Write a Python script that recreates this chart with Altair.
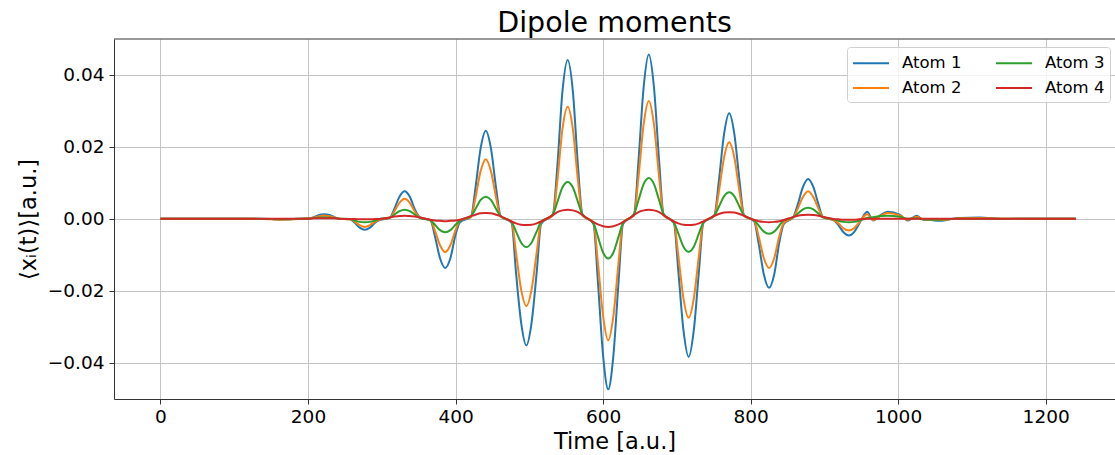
import altair as alt
import pandas as pd

# time samples [a.u.]
T = [0, 60, 120, 150, 165, 180, 192,
     202, 208, 215, 222, 229, 236, 242,
     257, 263, 270, 277, 284, 291, 297,
     311, 317, 324, 331, 338, 345, 351,
     366, 372, 379, 386, 393, 400, 406,
     421, 427, 434, 441, 448, 455, 461,
     476, 482, 489, 496, 503, 510, 516,
     532, 538, 545, 552, 559, 566, 572,
     587, 593, 600, 607, 614, 621, 627,
     642, 648, 655, 662, 669, 676, 682,
     696, 702, 709, 716, 723, 730, 736,
     751, 757, 764, 771, 778, 785, 791,
     805, 811, 818, 825, 832, 839, 845,
     858, 864, 871, 878, 885, 892, 898,
     913, 919, 926, 933, 940, 947, 953,
     958, 966, 976, 986, 1002, 1013, 1025, 1034, 1045, 1056, 1070, 1083, 1110, 1142, 1180, 1241]

atom1 = [0, 0, 0, -0.0001, -0.0002, -0.0001, 0,
         0.0001, 0.0004, 0.001, 0.0012, 0.001, 0.0004, 0.0,
         -0.0002, -0.0011, -0.0025, -0.0031, -0.0025, -0.0011, -0.0004,
         0.0002, 0.0027, 0.0061, 0.0076, 0.0061, 0.0025, 0.0005,
         -0.0005, -0.0048, -0.011, -0.0137, -0.011, -0.0045, -0.001,
         0.0005, 0.0085, 0.0195, 0.0244, 0.0195, 0.0085, 0.0008,
         -0.0012, -0.015, -0.029, -0.0352, -0.029, -0.015, -0.0015,
         0.0012, 0.0145, 0.0355, 0.0441, 0.0355, 0.0145, 0.0012,
         -0.0015, -0.0175, -0.038, -0.0474, -0.038, -0.0175, -0.0015,
         0.0012, 0.016, 0.0365, 0.0456, 0.0365, 0.016, 0.0012,
         -0.0012, -0.0145, -0.031, -0.0384, -0.031, -0.0145, -0.0012,
         0.001, 0.0105, 0.0235, 0.0293, 0.0235, 0.0105, 0.001,
         -0.0008, -0.007, -0.0155, -0.0192, -0.0155, -0.0065, -0.0015,
         0.0005, 0.004, 0.0088, 0.011, 0.0088, 0.004, 0.0005,
         -0.0005, -0.0018, -0.0038, -0.0047, -0.0038, -0.0015, 0.0008,
         0.0019, -0.0005, 0.001, 0.0019, 0.0011, -0.0005, 0.0008, -0.0003, -0.0004, -0.0006, -0.0002, 0.0002, 0.0003, -0.0001, 0, 0]

atom2 = [0, 0, 0, -0.0002, -0.0003, -0.0002, 0,
         0.0001, 0.0003, 0.0007, 0.0009, 0.0007, 0.0003, 0,
         -0.0002, -0.0008, -0.0018, -0.0023, -0.0018, -0.0008, -0.0003,
         0.0002, 0.002, 0.0044, 0.0055, 0.0044, 0.0019, 0.0004,
         -0.0004, -0.0033, -0.0074, -0.0093, -0.0074, -0.0032, -0.0005,
         0.0004, 0.0058, 0.0132, 0.0165, 0.0132, 0.0058, 0.0006,
         -0.0008, -0.0095, -0.0198, -0.0243, -0.0198, -0.0095, -0.001,
         0.0009, 0.0105, 0.025, 0.0311, 0.025, 0.0105, 0.0009,
         -0.001, -0.0122, -0.027, -0.0338, -0.027, -0.0122, -0.001,
         0.0009, 0.0115, 0.0262, 0.0327, 0.0262, 0.0115, 0.0009,
         -0.0009, -0.0102, -0.0222, -0.0275, -0.0222, -0.0102, -0.0009,
         0.0008, 0.0075, 0.017, 0.0212, 0.017, 0.0075, 0.0008,
         -0.0006, -0.005, -0.011, -0.0137, -0.011, -0.0048, -0.0012,
         0.0004, 0.0028, 0.006, 0.0076, 0.006, 0.0028, 0.0004,
         -0.0004, -0.0013, -0.0027, -0.0033, -0.0027, -0.0011, 0.0005,
         0.0012, -0.0004, 0.0008, 0.0016, 0.0009, -0.0003, 0.0005, -0.0002, -0.0003, -0.0004, -0.0002, 0.0001, 0.0002, 0, 0, 0]

atom3 = [0, 0, 0, -0.0001, -0.0002, -0.0001, 0,
         0, 0.0002, 0.0003, 0.0004, 0.0003, 0.0002, 0,
         -0.0001, -0.0005, -0.0009, -0.001, -0.0009, -0.0005, -0.0001,
         0.0003, 0.0011, 0.0021, 0.0025, 0.0021, 0.0011, 0.0003,
         -0.0005, -0.0017, -0.0032, -0.0038, -0.0032, -0.0017, -0.0005,
         0.0007, 0.0027, 0.0052, 0.0061, 0.0052, 0.0027, 0.0007,
         -0.0009, -0.0036, -0.0067, -0.0079, -0.0067, -0.0036, -0.0009,
         0.0012, 0.0046, 0.0087, 0.0102, 0.0087, 0.0046, 0.0012,
         -0.0013, -0.005, -0.0094, -0.0111, -0.0094, -0.005, -0.0013,
         0.0013, 0.0051, 0.0096, 0.0113, 0.0096, 0.0051, 0.0013,
         -0.0011, -0.0041, -0.0078, -0.0092, -0.0078, -0.0041, -0.0011,
         0.0009, 0.0033, 0.0062, 0.0073, 0.0062, 0.0033, 0.0009,
         -0.0005, -0.0019, -0.0036, -0.0042, -0.0036, -0.0019, -0.0005,
         0.0004, 0.0014, 0.0026, 0.003, 0.0026, 0.0014, 0.0004,
         -0.0002, -0.0006, -0.0009, -0.001, -0.0009, -0.0006, -0.0002,
         0.0002, 0.0004, 0.0007, 0.0008, 0.0005, 0, 0.0001, -0.0002, -0.0003, -0.0003, -0.0001, 0, 0, 0, 0, 0]

atom4 = [0, 0, 0, 0, 0, 0, 0,
         0, 0.0001, 0.0001, 0.0001, 0.0001, 0.0001, 0,
         -0.0001, -0.0001, -0.0002, -0.0002, -0.0002, -0.0001, -0.0001,
         0.0003, 0.0006, 0.0007, 0.0008, 0.0007, 0.0006, 0.0003,
         -0.0003, -0.0005, -0.0006, -0.0007, -0.0006, -0.0005, -0.0003,
         0.0007, 0.0011, 0.0015, 0.0016, 0.0015, 0.0011, 0.0007,
         -0.0008, -0.0013, -0.0017, -0.0018, -0.0017, -0.0013, -0.0008,
         0.001, 0.0018, 0.0023, 0.0025, 0.0023, 0.0018, 0.001,
         -0.001, -0.0016, -0.0021, -0.0023, -0.0021, -0.0016, -0.001,
         0.001, 0.0018, 0.0023, 0.0025, 0.0023, 0.0018, 0.001,
         -0.0008, -0.0013, -0.0017, -0.0018, -0.0017, -0.0013, -0.0008,
         0.0008, 0.0013, 0.0017, 0.0018, 0.0017, 0.0013, 0.0008,
         -0.0004, -0.0007, -0.0009, -0.001, -0.0009, -0.0007, -0.0004,
         0.0005, 0.0008, 0.001, 0.0011, 0.001, 0.0008, 0.0005,
         -0.0001, -0.0002, -0.0003, -0.0003, -0.0003, -0.0002, -0.0001,
         0, 0, 0, 0, 0, 0, 0, 0, 0, 0, 0, 0, 0, 0, 0, 0]

names = ["Atom 1", "Atom 2", "Atom 3", "Atom 4"]
colors = ["#1f77b4", "#ff7f0e", "#2ca02c", "#d62728"]
series = [atom1, atom2, atom3, atom4]

rows = []
for n, s in zip(names, series):
    for t, v in zip(T, s):
        rows.append({"t": t, "v": v, "atom": n})
df = pd.DataFrame(rows)

W, H = 1001, 360
FONT = "DejaVu Sans"

color = alt.Color(
    "atom:N",
    scale=alt.Scale(domain=names, range=colors),
    legend=alt.Legend(
        title=None, orient="none", legendX=733, legendY=8, columns=2,
        symbolType="M-1,0H2.6", symbolSize=400, symbolStrokeWidth=2,
        labelFontSize=16.5, labelFont=FONT, labelColor="black", labelOffset=28,
        columnPadding=30, rowPadding=5, padding=5,
        strokeColor="#d0d0d0", fillColor="rgba(255,255,255,0.8)", cornerRadius=3,
    ),
)

x = alt.X(
    "t:Q",
    scale=alt.Scale(domain=[-63, 1294], nice=False, zero=False),
    axis=alt.Axis(values=[0, 200, 400, 600, 800, 1000, 1200], format="d",
                  title="Time [a.u.]",
                  titleY=49, titleBaseline="alphabetic", labelPadding=3.5),
)
y = alt.Y(
    "v:Q",
    scale=alt.Scale(domain=[-0.0501, 0.0499], nice=False, zero=False),
    axis=alt.Axis(values=[-0.04, -0.02, 0, 0.02, 0.04],
                  labelExpr="replace(format(datum.value, '.2f'), '-', '\u2212')",
                  title="\u27e8x\u1d62(t)\u27e9[a.u.]",
                  titleX=-86, titleY=180, titleAngle=270, titleAlign="center",
                  titleBaseline="middle", labelPadding=5),
)

base = alt.Chart(df).mark_line(strokeWidth=2, interpolate="monotone", clip=True).encode(
    x=x, y=y, color=color
)
layers = [base.transform_filter(alt.datum.atom == n) for n in names]

frame_top = alt.Chart(pd.DataFrame({"a": [0]})).mark_rule(color="#333333", strokeWidth=1).encode(
    y=alt.value(0), x=alt.value(0), x2=alt.value(W)
)

chart = alt.layer(*layers, frame_top).properties(
    width=W, height=H,
    padding={"left": 114, "top": 39, "right": 0, "bottom": 56},
    autosize=alt.AutoSizeParams(type="none"),
    title=alt.Title("Dipole moments", fontSize=28.5, font=FONT, fontWeight="normal",
                    color="black", anchor="middle", frame="group", offset=7,
                    baseline="alphabetic", dy=29),
).configure_view(stroke="transparent").configure_axis(
    grid=True, gridColor="#c4c4c4", gridWidth=1,
    domainColor="#333333", domainWidth=1, tickColor="#333333", tickSize=5,
    labelColor="black", titleColor="black", labelFont=FONT, titleFont=FONT,
    labelFontSize=18.5, titleFontSize=22.5, titleFontWeight="normal",
)

chart.save("out.html", embed_options={"renderer": "svg", "actions": False})
